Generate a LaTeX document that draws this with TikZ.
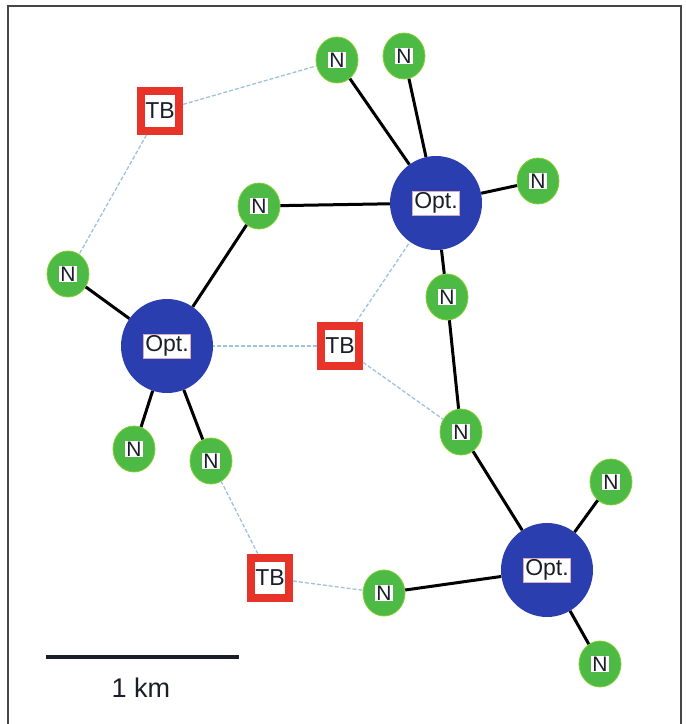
\documentclass[tikz,border=0pt]{standalone}
\usepackage{fontspec}
\setmainfont{Liberation Sans}
\usetikzlibrary{shapes.geometric}
\definecolor{ngreen}{RGB}{78,186,70}
\definecolor{oblue}{RGB}{42,62,176}
\definecolor{tbred}{RGB}{232,52,40}
\definecolor{dlink}{RGB}{160,195,220}
\definecolor{framec}{RGB}{70,70,70}
\definecolor{lblrim}{RGB}{215,170,190}
\definecolor{txt}{RGB}{25,30,40}
\begin{document}
\begin{tikzpicture}[x=1pt,y=-1pt,
  nnode/.style={ellipse,fill=ngreen,draw=ngreen!70!yellow,line width=0.8pt,minimum width=42,minimum height=46,inner sep=0pt,text=txt,font=\fontsize{21}{21}\selectfont},
  optnode/.style={ellipse,fill=oblue,minimum width=92,minimum height=94,inner sep=0pt,text=txt,font=\fontsize{23}{23}\selectfont},
  tbnode/.style={rectangle,fill=white,draw=tbred,line width=8pt,minimum width=38,minimum height=40,inner sep=0pt,text=txt,font=\fontsize{23}{23}\selectfont},
  fiber/.style={line width=3pt,black},
  radio/.style={line width=1.3pt,dlink,dashed,dash pattern=on 4pt off 2pt},
]
\useasboundingbox (0,0) rectangle (686,724);
\fill[white] (0,0) rectangle (686,724);
\draw[framec,line width=1.8pt] (8,724) -- (8,6) -- (681,6) -- (681,724);
\setlength{\fboxsep}{1.2pt}
\setlength{\fboxrule}{0.6pt}
\newcommand{\nlab}{\colorbox{white}{N}}
\newcommand{\olab}{\fcolorbox{lblrim}{white}{Opt.}}
% nodes
\node[nnode] (n1) at (337,60) {\nlab};
\node[nnode] (n2) at (404,56) {\nlab};
\node[tbnode] (tb1) at (160,111) {TB};
\node[optnode] (o1) at (436,203) {\olab};
\node[nnode] (n3) at (538,181) {\nlab};
\node[nnode] (n4) at (259,206) {\nlab};
\node[nnode] (n5) at (68,274) {\nlab};
\node[optnode] (o2) at (167,346) {\olab};
\node[tbnode] (tb2) at (340,346) {TB};
\node[nnode] (n6) at (447,297) {\nlab};
\node[nnode] (n7) at (461,432) {\nlab};
\node[nnode] (n8) at (134,449) {\nlab};
\node[nnode] (n9) at (211,461) {\nlab};
\node[nnode] (n10) at (611,482) {\nlab};
\node[tbnode] (tb3) at (270,578) {TB};
\node[nnode] (n11) at (384,593) {\nlab};
\node[optnode] (o3) at (547,570) {\olab};
\node[nnode] (n12) at (600,664) {\nlab};
% links
\draw[radio] (tb1) -- (n1);
\draw[radio] (tb1) -- (n5);
\draw[radio] (tb2) -- (o2);
\draw[radio] (tb2) -- (o1);
\draw[radio] (tb2) -- (n7);
\draw[radio] (tb3) -- (n9);
\draw[radio] (tb3) -- (n11);
\draw[fiber] (o1) -- (n1);
\draw[fiber] (o1) -- (n2);
\draw[fiber] (o1) -- (n3);
\draw[fiber] (o1) -- (n4);
\draw[fiber] (o1) -- (n6);
\draw[fiber] (n6) -- (n7);
\draw[fiber] (n7) -- (o3);
\draw[fiber] (o2) -- (n4);
\draw[fiber] (o2) -- (n5);
\draw[fiber] (o2) -- (n8);
\draw[fiber] (o2) -- (n9);
\draw[fiber] (o3) -- (n10);
\draw[fiber] (o3) -- (n12);
\draw[fiber] (o3) -- (n11);
% scale bar
\coordinate (sb1) at (46,657);
\coordinate (sb2) at (239,657);
\draw[line width=3.8pt,txt] (sb1) -- (sb2);
\node[font=\fontsize{27}{27}\selectfont,text=txt] (km) at (141,688) {1 km};
\end{tikzpicture}
\end{document}
